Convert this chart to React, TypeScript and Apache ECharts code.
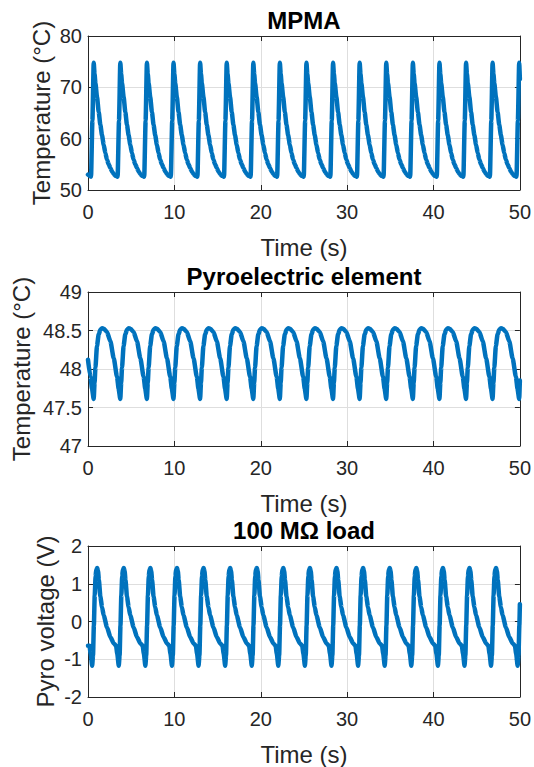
import React, { useEffect, useRef } from "react";
import * as echarts from "echarts";

// Peak times of the MPMA temperature (s)
const peakTimes = [0.66, 3.74, 6.82, 9.9, 12.98, 16.06, 19.14, 22.21, 25.29, 28.37, 31.45, 34.53, 37.61, 40.69, 43.77, 46.84, 49.92];

// MPMA temperature: one cycle, offsets (s) from a peak and values (°C)
const mpmaOffsets = [-0.31, -0.15, 0, 0.1, 0.2, 0.38, 0.58, 0.77, 0.97, 1.16, 1.35, 1.54, 1.74, 1.93, 2.12, 2.32, 2.5, 2.66];
const mpmaValues = [52.6, 63.5, 74.8, 72.6, 70.8, 68.2, 65.2, 62.7, 60.6, 58.8, 57.2, 55.9, 55.0, 54.3, 53.6, 53.1, 52.8, 52.65];
const mpmaStart = [[0, 53.0]];
const mpmaEnd = [[50, 71.6]];

// Pyroelectric element temperature: one cycle (°C)
const pyroOffsets = [0, 0.1, 0.2, 0.38, 0.58, 0.77, 1.0, 1.2, 1.54, 1.93, 2.32, 2.7, 2.89];
const pyroValues = [47.61, 47.82, 48.02, 48.3, 48.45, 48.51, 48.53, 48.52, 48.48, 48.36, 48.14, 47.9, 47.74];
const pyroStart = [[0, 48.12], [0.28, 47.9], [0.47, 47.74]];
const pyroEnd = [[50, 47.85]];

// Pyro voltage, 100 MΩ load: one cycle (V)
const voltOffsets = [-0.49, -0.35, -0.18, -0.08, 0.02, 0.12, 0.22, 0.3, 0.4, 0.5, 0.6, 0.77, 0.97, 1.16, 1.54, 1.93, 2.32];
const voltValues = [-0.64, -0.85, -1.17, -0.9, -0.1, 0.7, 1.2, 1.38, 1.42, 1.34, 1.1, 0.66, 0.38, 0.16, -0.15, -0.41, -0.58];
const voltStart = [[0, -0.64]];
const voltEnd = [[50, 0.46]];

const xTicks = [0, 10, 20, 30, 40, 50];
const titles = ["MPMA", "Pyroelectric element", "100 MΩ load"];
const yNames = ["Temperature (°C)", "Temperature (°C)", "Pyro voltage (V)"];
const yRanges = [
  { min: 50, max: 80, interval: 10 },
  { min: 47, max: 49, interval: 0.5 },
  { min: -2, max: 2, interval: 1 },
];

function build(offsets: number[], values: number[], start: number[][], end: number[][]) {
  const pts: number[][] = [...start];
  for (const tp of peakTimes) {
    for (let i = 0; i < offsets.length; i++) {
      const t = tp + offsets[i];
      if (t > start[start.length - 1][0] && t < end[0][0]) pts.push([t, values[i]]);
    }
  }
  pts.push(...end);
  return pts;
}

const FONT = "'Liberation Sans', Arial, Helvetica, sans-serif";
const TXT = "#262626";

export default function App() {
  const ref = useRef<HTMLDivElement>(null);
  useEffect(() => {
    if (!ref.current) return;
    const chart = echarts.init(ref.current, null, { renderer: "svg" });
    const gridTops = [36, 292, 546];
    const gridH = 154;
    const nameGaps = [35, 55, 31];
    const grids = gridTops.map((t) => ({ left: 88, top: t, width: 432, height: gridH }));
    const xAxes: any[] = [];
    const yAxes: any[] = [];
    gridTops.forEach((_, g) => {
      xAxes.push({
        type: "value", gridIndex: g, min: xTicks[0], max: xTicks[xTicks.length - 1], interval: 10,
        position: "bottom",
        name: "Time (s)", nameLocation: "middle", nameGap: 45, nameMoveOverlap: false,
        nameTextStyle: { fontFamily: FONT, fontSize: 24, color: TXT },
        axisLine: { show: true, onZero: false, lineStyle: { color: TXT, width: 1 } },
        axisTick: { show: true, inside: true, length: 5, lineStyle: { color: TXT } },
        axisLabel: { fontFamily: FONT, fontSize: 20, color: TXT, margin: 12 },
        splitLine: { show: true, lineStyle: { color: "#dedede", width: 1 } },
      });
      xAxes.push({
        type: "value", gridIndex: g, min: 0, max: 50, interval: 10, position: "top",
        axisLine: { show: true, onZero: false, lineStyle: { color: TXT, width: 1 } },
        axisTick: { show: true, inside: true, length: 5, lineStyle: { color: TXT } },
        axisLabel: { show: false }, splitLine: { show: false },
      });
      yAxes.push({
        type: "value", gridIndex: g, ...yRanges[g], position: "left",
        name: yNames[g], nameLocation: "middle", nameGap: nameGaps[g], nameMoveOverlap: false,
        nameTextStyle: { fontFamily: FONT, fontSize: 24, color: TXT },
        axisLine: { show: true, onZero: false, lineStyle: { color: TXT, width: 1 } },
        axisTick: { show: true, inside: true, length: 5, lineStyle: { color: TXT } },
        axisLabel: { fontFamily: FONT, fontSize: 20, color: TXT, margin: 6 },
        splitLine: { show: true, lineStyle: { color: "#dedede", width: 1 } },
      });
      yAxes.push({
        type: "value", gridIndex: g, ...yRanges[g], position: "right",
        axisLine: { show: true, onZero: false, lineStyle: { color: TXT, width: 1 } },
        axisTick: { show: true, inside: true, length: 5, lineStyle: { color: TXT } },
        axisLabel: { show: false }, splitLine: { show: false },
      });
    });
    const datas = [
      build(mpmaOffsets, mpmaValues, mpmaStart, mpmaEnd),
      build(pyroOffsets, pyroValues, pyroStart, pyroEnd),
      build(voltOffsets, voltValues, voltStart, voltEnd),
    ];
    chart.setOption({
      animation: false,
      backgroundColor: "#ffffff",
      title: titles.map((t, g) => ({
        text: t, left: 299, top: gridTops[g] - 33, textAlign: "center",
        textStyle: { fontFamily: FONT, fontSize: 24, fontWeight: "bold", color: "#000" },
      })),
      grid: grids,
      xAxis: xAxes,
      yAxis: yAxes,
      series: datas.map((d, g) => ({
        type: "line", data: d, xAxisIndex: g * 2, yAxisIndex: g * 2,
        showSymbol: false, symbol: "none",
        smooth: 0.2, smoothMonotone: "x",
        lineStyle: { color: "#0072BD", width: 4.5, join: "round", cap: "round" },
        clip: true,
      })),
    });
    return () => chart.dispose();
  }, []);
  return <div ref={ref} style={{ position: "absolute", left: 0, top: 0, width: 534, height: 767 }} />;
}
